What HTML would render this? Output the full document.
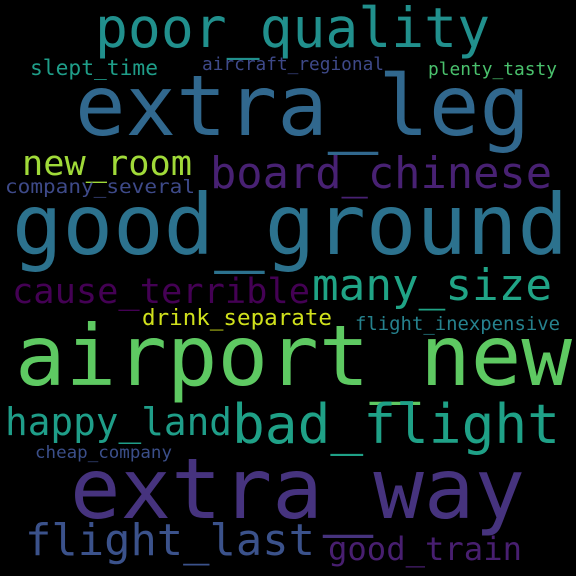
<!DOCTYPE html>
<html><head><meta charset="utf-8"><style>
html,body{margin:0;padding:0;background:#000;}
svg{display:block;}
text{font-family:"DejaVu Sans Mono","Liberation Mono",monospace;}
</style></head>
<body>
<svg width="576" height="576" viewBox="0 0 576 576">
<rect x="0" y="0" width="576" height="576" fill="#000"/>
<g id="words"></g>
</svg>
<script>
const words = ["poor_quality","extra_leg","good_ground","airport_new","extra_way","board_chinese","new_room","company_several","cause_terrible","many_size","drink_separate","flight_inexpensive","happy_land","bad_flight","cheap_company","flight_last","good_train","slept_time","aircraft_regional","plenty_tasty"];
const sizes = [55,84,84,84,84,44,35,19,35,44,22,19,38,54,17,44,32,21,18,18];
const colors = ["#21908d","#31688e","#2c728e","#5ec962","#46337e","#482173","#a0da39","#3e4a89","#440154","#20a486","#d0e11c","#26828e","#1f9e89","#1fa187","#3b4f8a","#3b528b","#481f70","#1f9e89","#3e4989","#4ac16d"];
const lefts = [95,75,12,15,70,210,22,5,12,312,142,355,5,232,35,25,328,30,202,428];
const baselines = [47,135,254,385,518,188,175,193,303,300,325,330,435,443,458,555,560,75,70,75];
const widths = [395,455,556,557,455,342,170,190,298,240,190,205,227,328,137,290,194,128,182,129];
const g = document.getElementById('words');
words.forEach((w,i)=>{
  const t = document.createElementNS('http://www.w3.org/2000/svg','text');
  
  
  t.setAttribute('x', lefts[i]);
  t.setAttribute('y', baselines[i]);
  t.setAttribute('font-size', sizes[i]);
  t.setAttribute('fill', colors[i]);
  t.setAttribute('textLength', widths[i]);
  t.setAttribute('lengthAdjust', 'spacingAndGlyphs');
  t.textContent = w;
  g.appendChild(t);
});
</script>
</body></html>
